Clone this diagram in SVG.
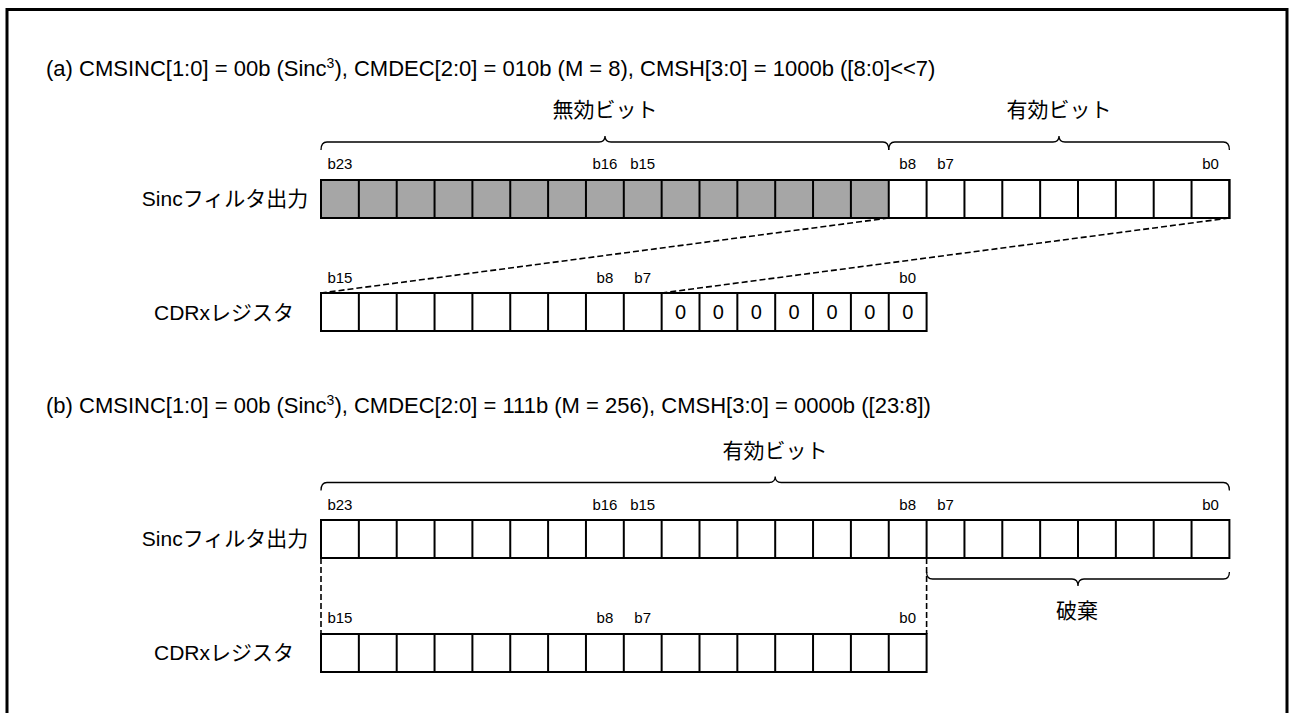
<svg xmlns="http://www.w3.org/2000/svg" width="1291" height="713" viewBox="0 0 1291 713">
<style>
text{font-family:"Liberation Sans","Noto Sans CJK JP",sans-serif;fill:#000}
.title{font-size:22px}
.lbl{font-size:21px;text-anchor:middle}
.bit{font-size:15px;text-anchor:middle}
.zero{font-size:20px;text-anchor:middle}
.cell{fill:none;stroke:#000;stroke-width:2}
.box{fill:#fff;stroke:#000;stroke-width:2}
.grey{fill:#a6a6a6}
.brace{fill:none;stroke:#000;stroke-width:1.3}
.dash{fill:none;stroke:#000;stroke-width:1.6;stroke-dasharray:6 3}
</style>
<rect width="1291" height="713" fill="#fff"/>
<path d="M7,713 V9.5 H1287 V713" fill="none" stroke="#000" stroke-width="3"/>

<text class="title" x="46" y="76">(a) CMSINC[1:0] = 00b (Sinc<tspan font-size="14" dy="-8">3</tspan><tspan dy="8">), CMDEC[2:0] = 010b (M = 8), CMSH[3:0] = 1000b ([8:0]&lt;&lt;7)</tspan></text>
<text class="title" x="46" y="413">(b) CMSINC[1:0] = 00b (Sinc<tspan font-size="14" dy="-8">3</tspan><tspan dy="8">), CMDEC[2:0] = 111b (M = 256), CMSH[3:0] = 0000b ([23:8])</tspan></text>

<g id="brace-a-invalid">
<path class="brace" d="M321,150 C321,144 323,142 327,142 H599 C603,142 605,140 605,136 C605,140 607,142 611,142 H883 C887,142 888.75,144 888.75,150"/>
<text class="lbl" x="605" y="117">無効ビット</text>
</g>
<g id="brace-a-valid">
<path class="brace" d="M888.75,150 C888.75,144 890.75,142 894.75,142 H1053 C1057,142 1059,140 1059,136 C1059,140 1061,142 1065,142 H1223.4 C1227.4,142 1229.4,144 1229.4,150"/>
<text class="lbl" x="1059" y="117">有効ビット</text>
</g>

<g id="sinc-a">
<text class="lbl" x="225" y="206">Sincフィルタ出力</text>
<rect class="box" x="321" y="180" width="908.4" height="38"/>
<rect class="grey" x="321" y="180" width="567.75" height="38"/>
<path class="cell" d="M358.85,180V218M396.7,180V218M434.55,180V218M472.4,180V218M510.25,180V218M548.1,180V218M585.95,180V218M623.8,180V218M661.65,180V218M699.5,180V218M737.35,180V218M775.2,180V218M813.05,180V218M850.9,180V218M888.75,180V218M926.6,180V218M964.45,180V218M1002.3,180V218M1040.15,180V218M1078,180V218M1115.85,180V218M1153.7,180V218M1191.55,180V218"/>
<rect class="cell" x="321" y="180" width="908.4" height="38"/>
<text class="bit" x="339.9" y="169">b23</text>
<text class="bit" x="604.9" y="169">b16</text>
<text class="bit" x="642.7" y="169">b15</text>
<text class="bit" x="907.7" y="169">b8</text>
<text class="bit" x="945.5" y="169">b7</text>
<text class="bit" x="1210.5" y="169">b0</text>
</g>

<g id="cdr-a">
<text class="lbl" x="224" y="320">CDRxレジスタ</text>
<rect class="box" x="321" y="293" width="605.6" height="38"/>
<path class="cell" d="M358.85,293V331M396.7,293V331M434.55,293V331M472.4,293V331M510.25,293V331M548.1,293V331M585.95,293V331M623.8,293V331M661.65,293V331M699.5,293V331M737.35,293V331M775.2,293V331M813.05,293V331M850.9,293V331M888.75,293V331"/>
<text class="bit" x="339.9" y="283">b15</text>
<text class="bit" x="604.9" y="283">b8</text>
<text class="bit" x="642.7" y="283">b7</text>
<text class="bit" x="907.7" y="283">b0</text>
<text class="zero" x="680.6" y="319">0</text>
<text class="zero" x="718.4" y="319">0</text>
<text class="zero" x="756.3" y="319">0</text>
<text class="zero" x="794.1" y="319">0</text>
<text class="zero" x="832" y="319">0</text>
<text class="zero" x="869.8" y="319">0</text>
<text class="zero" x="907.7" y="319">0</text>
</g>

<g id="brace-b-valid">
<path class="brace" d="M321,490.5 C321,484.5 323,482.5 327,482.5 H769.2 C773.2,482.5 775.2,480.5 775.2,476.5 C775.2,480.5 777.2,482.5 781.2,482.5 H1223.4 C1227.4,482.5 1229.4,484.5 1229.4,490.5"/>
<text class="lbl" x="775" y="458">有効ビット</text>
</g>

<g id="sinc-b">
<text class="lbl" x="225" y="546">Sincフィルタ出力</text>
<rect class="box" x="321" y="520" width="908.4" height="38"/>
<path class="cell" d="M358.85,520V558M396.7,520V558M434.55,520V558M472.4,520V558M510.25,520V558M548.1,520V558M585.95,520V558M623.8,520V558M661.65,520V558M699.5,520V558M737.35,520V558M775.2,520V558M813.05,520V558M850.9,520V558M888.75,520V558M926.6,520V558M964.45,520V558M1002.3,520V558M1040.15,520V558M1078,520V558M1115.85,520V558M1153.7,520V558M1191.55,520V558"/>
<text class="bit" x="339.9" y="510">b23</text>
<text class="bit" x="604.9" y="510">b16</text>
<text class="bit" x="642.7" y="510">b15</text>
<text class="bit" x="907.7" y="510">b8</text>
<text class="bit" x="945.5" y="510">b7</text>
<text class="bit" x="1210.5" y="510">b0</text>
</g>

<g id="brace-b-discard">
<path class="brace" d="M926.6,572 C926.6,577 928.6,579 932.6,579 H1072 C1076,579 1078,581 1078,586 C1078,581 1080,579 1084,579 H1223.4 C1227.4,579 1229.4,577 1229.4,572"/>
<text class="lbl" x="1077" y="618">破棄</text>
</g>

<g id="cdr-b">
<text class="lbl" x="224" y="660">CDRxレジスタ</text>
<rect class="box" x="321" y="634" width="605.6" height="38"/>
<path class="cell" d="M358.85,634V672M396.7,634V672M434.55,634V672M472.4,634V672M510.25,634V672M548.1,634V672M585.95,634V672M623.8,634V672M661.65,634V672M699.5,634V672M737.35,634V672M775.2,634V672M813.05,634V672M850.9,634V672M888.75,634V672"/>
<text class="bit" x="339.9" y="623">b15</text>
<text class="bit" x="604.9" y="623">b8</text>
<text class="bit" x="642.7" y="623">b7</text>
<text class="bit" x="907.7" y="623">b0</text>
</g>

<g id="connectors">
<path class="dash" d="M888.75,218 L321,293"/>
<path class="dash" d="M1229.4,218 L661.65,293"/>
<path class="dash" d="M321,558 V634"/>
<path class="dash" d="M926.6,558 V634"/>
</g>
</svg>
